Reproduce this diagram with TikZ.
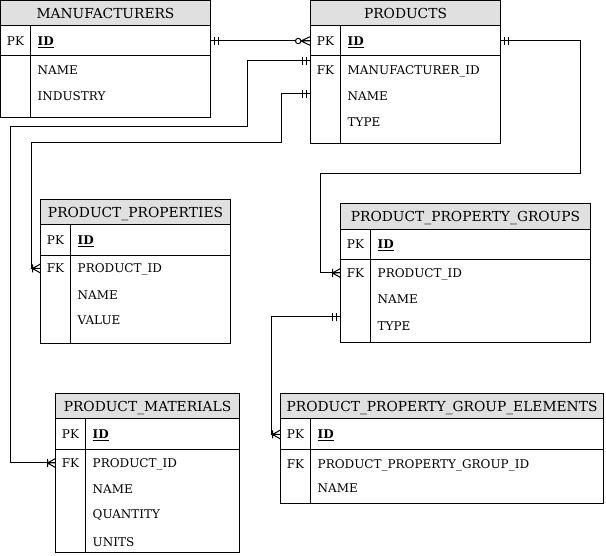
\documentclass[tikz,border=0pt]{standalone}
\usepackage{fontspec}
\setmainfont{DejaVu Serif}
\definecolor{hdrgray}{RGB}{224,224,224}
\tikzset{
  ln/.style={line width=1pt},
  tblbox/.style={draw, line width=1pt, rectangle, inner sep=0pt, outer sep=0pt},
  hdrtxt/.style={font=\fontsize{13.8}{16}\selectfont, inner sep=0pt},
  keytxt/.style={font=\fontsize{12}{14}\selectfont, inner sep=0pt, anchor=base},
  fldtxt/.style={font=\fontsize{12}{14}\selectfont, inner sep=0pt, anchor=base west},
  conn/.style={line width=1pt},
  erone/.pic={\draw[line width=1pt] (4,-4) -- (4,4) (8,-4) -- (8,4);},
  ercrow/.pic={\draw[line width=1pt] (0,-4.5) -- (8,0) -- (0,4.5) (0,0) -- (8,0) (8,-4) -- (8,4);},
  erzcrow/.pic={\draw[line width=1pt] (0,-4.5) -- (9.5,0) -- (0,4.5) (0,0) -- (9.5,0); \draw[line width=1pt, fill=white] (12.3,0) circle (2.7);}
}
\newcommand\erdtab[9]{%
  \fill[hdrgray] (#2,#3) rectangle (#4,#6);
  \draw[ln] (#2,#6) -- (#4,#6) (#2,#7) -- (#4,#7) (#8,#6) -- (#8,#5);
  \node[tblbox, minimum width={#4-#2}, minimum height={#5-#3}, anchor=north west] (#1) at (#2,#3) {};
  \node[hdrtxt, anchor=base] (#1-h) at ({(#2+#4)/2},{(#3+#6)/2+5.1}) {#9};
}
\newcommand\erdrow[6]{%
  \coordinate (#1) at (#3,#4);
  \node[keytxt] (#1-k) at (#2,{#4+4.4}) {#5};
  \node[fldtxt] (#1-f) at (#3,{#4+4.4}) {#6};
}
\newcommand\pkid{\textbf{\underline{ID}}}
\begin{document}
\begin{tikzpicture}[x=1pt, y=-1pt]
\useasboundingbox (0,0) rectangle (606,556);

% MANUFACTURERS
\erdtab{m}{0.5}{0.5}{210.5}{118}{26}{56}{30.5}{MANUFACTURERS}
\erdrow{m-r0}{15.5}{37.5}{41}{PK}{\pkid}
\erdrow{m-r1}{15.5}{37.5}{70}{}{NAME}
\erdrow{m-r2}{15.5}{37.5}{96}{}{INDUSTRY}

% PRODUCTS
\erdtab{p}{310.5}{0.5}{500.5}{144}{26}{56}{340.5}{PRODUCTS}
\erdrow{p-r0}{325.5}{347.5}{41}{PK}{\pkid}
\erdrow{p-r1}{325.5}{347.5}{70}{FK}{MANUFACTURER\_ID}
\erdrow{p-r2}{325.5}{347.5}{96}{}{NAME}
\erdrow{p-r3}{325.5}{347.5}{122}{}{TYPE}

% PRODUCT_PROPERTIES
\erdtab{pp}{40.5}{199.5}{230.5}{343.5}{225}{255.5}{70.5}{PRODUCT\_PROPERTIES}
\erdrow{pp-r0}{55.5}{77.5}{240}{PK}{\pkid}
\erdrow{pp-r1}{55.5}{77.5}{268.5}{FK}{PRODUCT\_ID}
\erdrow{pp-r2}{55.5}{77.5}{295.5}{}{NAME}
\erdrow{pp-r3}{55.5}{77.5}{320}{}{VALUE}

% PRODUCT_PROPERTY_GROUPS
\erdtab{ppg}{340.5}{203.5}{590.5}{342.5}{229.5}{259.5}{370.5}{PRODUCT\_PROPERTY\_GROUPS}
\erdrow{ppg-r0}{355.5}{377.5}{244}{PK}{\pkid}
\erdrow{ppg-r1}{355.5}{377.5}{273}{FK}{PRODUCT\_ID}
\erdrow{ppg-r2}{355.5}{377.5}{299}{}{NAME}
\erdrow{ppg-r3}{355.5}{377.5}{326.5}{}{TYPE}

% PRODUCT_MATERIALS
\erdtab{pm}{55.5}{393.5}{239.5}{552.5}{418.5}{449.5}{85.5}{PRODUCT\_MATERIALS}
\erdrow{pm-r0}{70.5}{92.5}{434.5}{PK}{\pkid}
\erdrow{pm-r1}{70.5}{92.5}{463}{FK}{PRODUCT\_ID}
\erdrow{pm-r2}{70.5}{92.5}{489}{}{NAME}
\erdrow{pm-r3}{70.5}{92.5}{514.5}{}{QUANTITY}
\erdrow{pm-r4}{70.5}{92.5}{542.5}{}{UNITS}

% PRODUCT_PROPERTY_GROUP_ELEMENTS
\erdtab{ppge}{280.5}{393.5}{603.5}{503.5}{418.5}{449.5}{310.5}{PRODUCT\_PROPERTY\_GROUP\_ELEMENTS}
\erdrow{ppge-r0}{295.5}{317.5}{434.5}{PK}{\pkid}
\erdrow{ppge-r1}{295.5}{317.5}{464}{FK}{PRODUCT\_PROPERTY\_GROUP\_ID}
\erdrow{ppge-r2}{295.5}{317.5}{488.5}{}{NAME}

% attach points
\coordinate (a2) at (0,61);
\coordinate (a3) at (0,94);
\coordinate (a5) at (0,317);

% connectors
\draw[conn] (m.east |- m-r0) -- (p.west |- m-r0);
\pic at (m.east |- m-r0) {erone};
\pic[rotate=180] at (p.west |- m-r0) {erzcrow};

\draw[conn] (p.west |- a2) -- (247,61) -- (247,127) -- (10,127) -- (10,463) -- (pm.west |- pm-r1);
\pic[rotate=180] at (p.west |- a2) {erone};
\pic[rotate=180] at (pm.west |- pm-r1) {ercrow};

\draw[conn] (p.west |- a3) -- (281,94) -- (281,143) -- (31,143) -- (31,268.5) -- (pp.west |- pp-r1);
\pic[rotate=180] at (p.west |- a3) {erone};
\pic[rotate=180] at (pp.west |- pp-r1) {ercrow};

\draw[conn] (p.east |- p-r0) -- (580.5,41) -- (580.5,173.5) -- (320.5,173.5) -- (320.5,273) -- (ppg.west |- ppg-r1);
\pic at (p.east |- p-r0) {erone};
\pic[rotate=180] at (ppg.west |- ppg-r1) {ercrow};

\draw[conn] (ppg.west |- a5) -- (271,317) -- (271,434.5) -- (ppge.west |- ppge-r0);
\pic[rotate=180] at (ppg.west |- a5) {erone};
\pic[rotate=180] at (ppge.west |- ppge-r0) {ercrow};
\end{tikzpicture}
\end{document}
